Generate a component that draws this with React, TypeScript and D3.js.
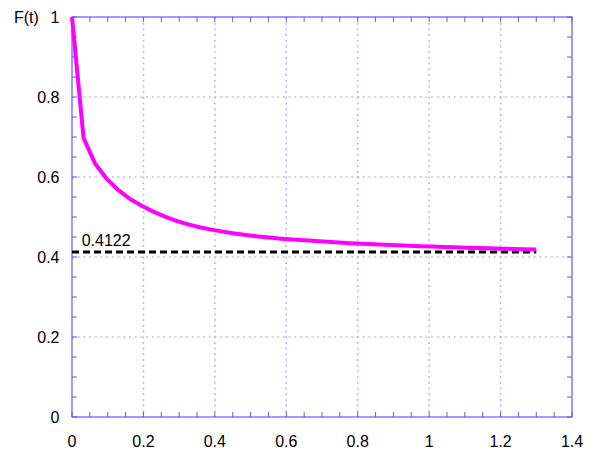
import React from "react";
import * as d3 from "d3";

const tValues = [
  0, 0.0325, 0.065, 0.0975, 0.13, 0.1625, 0.195, 0.2275, 0.26, 0.2925, 0.325,
  0.3575, 0.39, 0.4225, 0.455, 0.4875, 0.52, 0.5525, 0.585, 0.6175, 0.65,
  0.6825, 0.715, 0.7475, 0.78, 0.8125, 0.845, 0.8775, 0.91, 0.9425, 0.975,
  1.0075, 1.04, 1.0725, 1.105, 1.1375, 1.17, 1.2025, 1.235, 1.2675, 1.3,
];
const fValues = [
  1.0, 0.697, 0.633, 0.595, 0.567, 0.545, 0.528, 0.5135, 0.501, 0.4905, 0.4815,
  0.4745, 0.4685, 0.4635, 0.459, 0.455, 0.4515, 0.4485, 0.4458, 0.4436, 0.4416,
  0.4397, 0.4379, 0.4362, 0.4346, 0.4331, 0.4317, 0.4304, 0.4292, 0.4281, 0.427,
  0.426, 0.425, 0.4241, 0.4232, 0.4224, 0.4216, 0.4209, 0.4202, 0.4196, 0.419,
];
const limitValue = 0.4122;
const limitLabel = "0.4122";
const limitRange = [0, 1.3];
const xTicks = [0, 0.2, 0.4, 0.6, 0.8, 1, 1.2, 1.4];
const yTicks = [0, 0.2, 0.4, 0.6, 0.8, 1];
const yLabel = "F(t)";

const W = 595;
const H = 457;
const L = 72, R = 572, T = 17, B = 417;
const FONT = "'Liberation Sans', Arial, Helvetica, sans-serif";
const FS = 16;

export default function App() {
  const x = d3.scaleLinear().domain([0, 1.4]).range([L, R]);
  const y = d3.scaleLinear().domain([0, 1]).range([B, T]);
  const minorX = d3.range(0, 1.4001, 0.05);
  const minorY = d3.range(0, 1.0001, 0.05);
  const line = d3
    .line<number>()
    .x((_, i) => x(tValues[i]))
    .y((d) => y(d));
  const axisColor = "#5a5aff";
  const gridColor = "#9a9aff";
  return (
    <svg
      width={W}
      height={H}
      style={{ position: "absolute", left: 0, top: 0, background: "#fff" }}
      fontFamily={FONT}
    >
      <rect x={0} y={0} width={W} height={H} fill="#fff" />
      {/* grid */}
      {xTicks.slice(1, -1).map((t) => (
        <line
          key={"gx" + t}
          x1={x(t)}
          x2={x(t)}
          y1={T}
          y2={B}
          stroke={gridColor}
          strokeWidth={1.6}
          strokeOpacity={0.7}
          strokeDasharray="2,3.7"
        />
      ))}
      {yTicks.slice(1, -1).map((t) => (
        <line
          key={"gy" + t}
          x1={L}
          x2={R}
          y1={y(t)}
          y2={y(t)}
          stroke={gridColor}
          strokeWidth={1}
          strokeDasharray="2,3.7"
        />
      ))}
      {/* minor ticks */}
      {minorX.map((t, i) => (
        <g key={"mx" + i}>
          <line x1={x(t)} x2={x(t)} y1={B} y2={B - 5} stroke={axisColor} strokeWidth={1} />
          <line x1={x(t)} x2={x(t)} y1={T} y2={T + 5} stroke={axisColor} strokeWidth={1} />
        </g>
      ))}
      {minorY.map((t, i) => (
        <g key={"my" + i}>
          <line x1={L} x2={L + 5} y1={y(t)} y2={y(t)} stroke={axisColor} strokeWidth={1} />
          <line x1={R} x2={R - 5} y1={y(t)} y2={y(t)} stroke={axisColor} strokeWidth={1} />
        </g>
      ))}
      {/* frame */}
      <rect x={L} y={T} width={R - L} height={B - T} fill="none" stroke={axisColor} strokeWidth={1.2} />
      {/* limit line */}
      <line
        x1={x(limitRange[0])}
        x2={x(limitRange[1])}
        y1={y(limitValue)}
        y2={y(limitValue)}
        stroke="#000"
        strokeWidth={3}
        strokeDasharray="7,4"
      />
      <text x={x(0.027)} y={y(limitValue) - 6.5} fontSize={FS} fill="#000">
        {limitLabel}
      </text>
      {/* curve */}
      <path d={line(fValues) || ""} fill="none" stroke="#ff00ff" strokeWidth={4} strokeLinejoin="round" />
      {/* tick labels */}
      {xTicks.map((t) => (
        <text key={"xl" + t} x={x(t)} y={447} fontSize={FS} textAnchor="middle" fill="#000">
          {String(t)}
        </text>
      ))}
      {yTicks.map((t) => (
        <text key={"yl" + t} x={59.5} y={y(t) + 6} fontSize={FS} textAnchor="end" fill="#000">
          {String(t)}
        </text>
      ))}
      <text x={14} y={22.5} fontSize={FS} fill="#000">
        {yLabel}
      </text>
    </svg>
  );
}
